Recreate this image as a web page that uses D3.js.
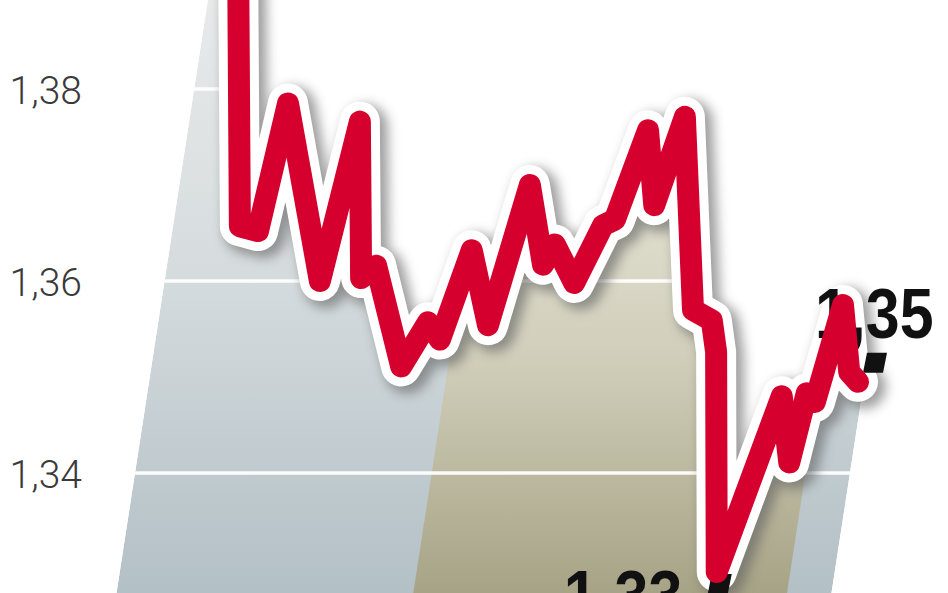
<!DOCTYPE html>
<html>
<head>
<meta charset="utf-8">
<script src="https://cdn.jsdelivr.net/npm/d3@7"></script>
<style>
  html, body { margin: 0; padding: 0; background: #ffffff; overflow: hidden; }
  svg { display: block; }
</style>
</head>
<body>
<svg id="chart" width="948" height="593"></svg>
<script>
// ---- data ----
const days = [0, 0.3, 3.2, 8.0, 13.1, 19.5, 19.7, 22.1, 26.1, 30.4, 32.3, 37.4, 40.0, 46.7, 48.8, 50.7,
              53.8, 58.4, 60.3, 65.6, 66.6, 71.5, 72.8, 75.8, 76.5, 76.6, 87.0, 88.2, 91.0, 92.3, 96.8, 97.8, 99.2];
const values = [1.3955, 1.3657, 1.3652, 1.3785, 1.3600, 1.3766, 1.3603, 1.3616, 1.3511, 1.3557, 1.3539, 1.3632, 1.3554, 1.3700, 1.3617, 1.3638,
                1.3598, 1.3658, 1.3664, 1.3757, 1.3679, 1.3771, 1.3570, 1.3559, 1.3526, 1.3297, 1.3480, 1.3411, 1.3483, 1.3474, 1.3575, 1.3505, 1.3495];
const yTicks = [1.34, 1.36, 1.38];
const highlightBand = [31.0, 90.8];         // khaki period (days)
const minLabel = "1,33";
const lastLabel = "1,35";

const W = 948, H = 593;
const svg = d3.select("#chart");
const x = d3.scaleLinear().domain([0, 100]).range([238, 863]);
const y = d3.scaleLinear().domain([1.34, 1.38]).range([473, 89]);
const pl = d3.formatLocale({decimal: ",", thousands: " ", grouping: [3], currency: ["", ""]});
const fmt = pl.format(".2f");

const data = days.map((d, i) => ({d, v: values[i]}));
const k = 0.154;                 // oblique slant of the backdrop
const yBot = H + 10;

const defs = svg.append("defs");
const gGrey = defs.append("linearGradient").attr("id", "gGrey")
  .attr("gradientUnits", "userSpaceOnUse").attr("x1", 0).attr("x2", 0).attr("y1", 0).attr("y2", H);
gGrey.append("stop").attr("offset", 0).attr("stop-color", "#e8eaea");
gGrey.append("stop").attr("offset", 0.45).attr("stop-color", "#d6dcde");
gGrey.append("stop").attr("offset", 1).attr("stop-color", "#b3c0c6");
const gKhaki = defs.append("linearGradient").attr("id", "gKhaki")
  .attr("gradientUnits", "userSpaceOnUse").attr("x1", 0).attr("x2", 0).attr("y1", 150).attr("y2", H);
gKhaki.append("stop").attr("offset", 0).attr("stop-color", "#e4e2d4");
gKhaki.append("stop").attr("offset", 0.45).attr("stop-color", "#d2d0bc");
gKhaki.append("stop").attr("offset", 1).attr("stop-color", "#a7a386");
const blur = defs.append("filter").attr("id", "shadow").attr("x", "-20%").attr("y", "-20%").attr("width", "140%").attr("height", "140%");
blur.append("feGaussianBlur").attr("stdDeviation", 6);

const line = d3.line().x(p => x(p.d)).y(p => y(p.v)).curve(d3.curveLinear);

// backdrop polygon under the line, with slanted sides
const first = data[0], last = data[data.length - 1];
const leftEdge = yy => 135 + k * (y(1.34) - yy);
const rightEdge = yy => x(last.d) + 6 + k * (y(last.v) - yy);
const areaPath = line(data) +
  `L${rightEdge(y(last.v))},${y(last.v)}L${rightEdge(yBot)},${yBot}L${leftEdge(yBot)},${yBot}L${leftEdge(y(first.v))},${y(first.v)}Z`;

defs.append("clipPath").attr("id", "areaClip").append("path").attr("d", areaPath);

const back = svg.append("g").attr("clip-path", "url(#areaClip)");
back.append("path").attr("d", areaPath).attr("fill", "url(#gGrey)");
const bx0 = yy => x(highlightBand[0]) + k * (y(1.34) - yy);
const bx1 = yy => x(highlightBand[1]) + k * (y(1.34) - yy);
back.append("path")
  .attr("d", `M${bx0(-80)},-80L${bx1(-80)},-80L${bx1(yBot)},${yBot}L${bx0(yBot)},${yBot}Z`)
  .attr("fill", "url(#gKhaki)");
back.selectAll("line.grid").data(yTicks).join("line")
  .attr("class", "grid")
  .attr("x1", 0).attr("x2", W)
  .attr("y1", d => y(d)).attr("y2", d => y(d))
  .attr("stroke", "#ffffff").attr("stroke-width", 3.5).attr("opacity", 0.95);

// y axis labels
const axis = d3.axisLeft(y).tickValues(yTicks).tickFormat(fmt).tickSize(0).tickPadding(0);
const ax = svg.append("g").attr("transform", "translate(82,0)").call(axis);
ax.select(".domain").remove();
ax.selectAll("text")
  .attr("font-family", "Roboto, 'Liberation Sans', sans-serif")
  .attr("font-weight", 300)
  .attr("font-size", 39)
  .attr("fill", "#3a3a3a")
  .attr("dy", "0.36em");

// shadow, halo, line
svg.append("path").attr("d", line(data))
  .attr("fill", "none").attr("stroke", "#5f5f5f").attr("stroke-width", 44)
  .attr("stroke-linejoin", "round").attr("stroke-linecap", "round")
  .attr("opacity", 0.6).attr("filter", "url(#shadow)")
  .attr("transform", "translate(6,5)");
svg.append("path").attr("d", line(data))
  .attr("fill", "none").attr("stroke", "#ffffff").attr("stroke-width", 40)
  .attr("stroke-linejoin", "round").attr("stroke-linecap", "round");

// labels + markers
const minP = data.reduce((a, b) => (b.v < a.v ? b : a));
const marker = (px, py) => `M${px + 4},${py}L${px + 24},${py}L${px + 20},${py + 20}L${px},${py + 20}Z`;
svg.append("path").attr("d", marker(x(minP.d) - 9, y(minP.v) + 2)).attr("fill", "#111");
svg.append("path").attr("d", marker(x(last.d) + 5, y(last.v) - 29)).attr("fill", "#111");

const labelFont = "'Liberation Sans', Arial, sans-serif";
function bigLabel(txt, px, py) {
  svg.append("text")
    .attr("transform", `translate(${px},${py}) scale(0.87,1)`)
    .attr("font-family", labelFont).attr("font-weight", 700).attr("font-size", 70)
    .attr("fill", "#111").text(txt);
}
bigLabel(lastLabel, 815, y(last.v) - 44);
bigLabel(minLabel, x(minP.d) - 153, y(minP.v) + 48);

svg.append("path").attr("d", line(data))
  .attr("fill", "none").attr("stroke", "#d5002e").attr("stroke-width", 22)
  .attr("stroke-linejoin", "round").attr("stroke-linecap", "round");
</script>
</body>
</html>
